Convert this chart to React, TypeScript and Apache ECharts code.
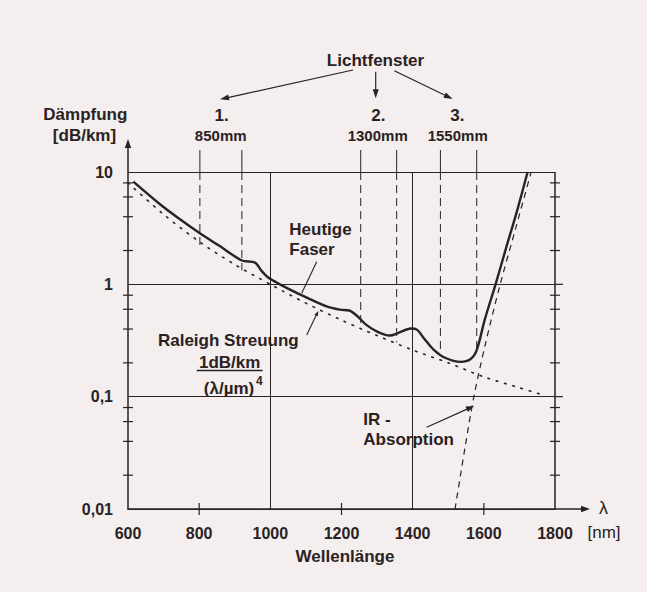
import React, { useEffect, useRef } from "react";
import * as echarts from "echarts";

// ---- data ----
const xMinNm = 600;
const xMaxNm = 1800;
const xStep = 200;
const yMin = 0.01;
const yMax = 10;

// "Heutige Faser" attenuation curve
const fiberWl = [615, 690, 746, 802, 858, 920, 957, 976, 994, 1027, 1074, 1158, 1195, 1222, 1245, 1268, 1300, 1336, 1360, 1395, 1412, 1432, 1458, 1491, 1535, 1562, 1580, 1603, 1633, 1664, 1692, 1723];
const fiberDb = [8.2, 5.16, 3.79, 2.85, 2.19, 1.63, 1.56, 1.31, 1.15, 1.0, 0.84, 0.635, 0.595, 0.585, 0.52, 0.44, 0.38, 0.35, 0.37, 0.405, 0.395, 0.33, 0.264, 0.222, 0.204, 0.215, 0.26, 0.49, 1.0, 2.19, 4.35, 10];

// Rayleigh scattering (dotted)
const rayWl = [600, 700, 800, 900, 1000, 1100, 1200, 1300, 1400, 1500, 1600, 1700, 1760];
const rayDb = [8.0, 4.2, 2.4, 1.5, 1.0, 0.68, 0.48, 0.35, 0.26, 0.2, 0.15, 0.12, 0.105];

// IR absorption (dashed)
const irWl = [1519, 1547, 1572, 1605, 1646, 1690, 1733];
const irDb = [0.01, 0.035, 0.1, 0.3, 1.0, 3.2, 10];

// optical windows (dashed verticals)
const windowWl = [802, 920, 1254, 1355, 1478, 1580];
const windowEnd = [2.2, 1.33, 0.4, 0.305, 0.24, 0.25];

// solid vertical grid lines and x minor ticks
const gridWl = [1000, 1400];
const xTickWl = [800, 1200, 1600];

// y minor ticks
const decades = [0.01, 0.1, 1];
const minorMult = [2, 4, 6, 8];
const hGridDb = [0.1, 1];

const INK = "#2a2222";
const FONT = "'Liberation Sans', Arial, Helvetica, sans-serif";

function fmtY(v: number): string {
  if (v >= 5) return "10";
  if (v >= 0.5) return "1";
  if (v >= 0.05) return "0,1";
  return "0,01";
}

function arrow(x1: number, y1: number, x2: number, y2: number, head = 8, w = 3, lw = 1.2) {
  const dx = x2 - x1, dy = y2 - y1;
  const L = Math.hypot(dx, dy);
  const ux = dx / L, uy = dy / L;
  const bx = x2 - ux * head, by = y2 - uy * head;
  return [
    { type: "line", silent: true, z: 100, shape: { x1, y1, x2: bx + ux * 1, y2: by + uy * 1 }, style: { stroke: INK, lineWidth: lw } },
    {
      type: "polygon", silent: true, z: 100,
      shape: { points: [[x2, y2], [bx - uy * w, by + ux * w], [bx + uy * w, by - ux * w]] },
      style: { fill: INK },
    },
  ];
}

function line(x1: number, y1: number, x2: number, y2: number, lw = 1) {
  return { type: "line", silent: true, z: 100, shape: { x1, y1, x2, y2 }, style: { stroke: INK, lineWidth: lw } };
}

function txt(text: string, x: number, y: number, size = 17, weight: any = "bold", align = "center") {
  return {
    type: "text", silent: true, z: 100, x, y,
    style: {
      text, fill: INK, fontSize: size, fontWeight: weight, fontFamily: FONT,
      align, textAlign: align, verticalAlign: "middle", textVerticalAlign: "middle",
    },
  };
}

export default function App() {
  const ref = useRef<HTMLDivElement>(null);

  useEffect(() => {
    if (!ref.current) return;
    const chart = echarts.init(ref.current, undefined, { renderer: "svg" });

    const windowSeries = windowWl.map((wl, i) => ({
      type: "line",
      data: [[wl, yMax], [wl, windowEnd[i]]],
      symbol: "none",
      silent: true,
      lineStyle: { color: INK, width: 1, type: [8, 5] },
      z: 2,
    }));

    chart.setOption({
      animation: false,
      backgroundColor: "#f4eeee",
      grid: { left: 128, top: 172, right: 92, bottom: 83 },
      xAxis: {
        type: "value",
        min: xMinNm,
        max: xMaxNm,
        interval: xStep,
        axisLine: { show: true, lineStyle: { color: INK, width: 1.5 } },
        axisTick: { show: false },
        splitLine: { show: false },
        axisLabel: {
          color: INK, fontSize: 16, fontWeight: "bold", fontFamily: FONT, margin: 16,
          formatter: (v: number) => String(Math.round(v)),
        },
      },
      yAxis: {
        type: "log",
        logBase: 10,
        min: yMin,
        max: yMax,
        axisLine: { show: true, lineStyle: { color: INK, width: 1.5 } },
        axisTick: { show: false },
        splitLine: { show: true, lineStyle: { color: INK, width: 1.2 } },
        axisLabel: { color: INK, fontSize: 16, fontWeight: "bold", fontFamily: FONT, margin: 15, formatter: (v: number) => fmtY(v) },
      },
      series: [
        {
          type: "line",
          name: "Heutige Faser",
          data: fiberWl.map((w, i) => [w, fiberDb[i]]),
          symbol: "none",
          smooth: 0.3,
          silent: true,
          lineStyle: { color: INK, width: 2.4 },
          z: 5,
          markLine: {
            silent: true,
            symbol: "none",
            label: { show: false },
            lineStyle: { color: INK, width: 1, type: "solid" },
            data: gridWl.map((w) => ({ xAxis: w })),
          },
        },
        {
          type: "line",
          name: "Raleigh",
          data: rayWl.map((w, i) => [w, rayDb[i]]),
          symbol: "none",
          smooth: 0.3,
          silent: true,
          lineStyle: { color: INK, width: 1.6, type: [1.6, 7], cap: "round" },
          z: 4,
        },
        {
          type: "line",
          name: "IR",
          data: irWl.map((w, i) => [w, irDb[i]]),
          symbol: "none",
          smooth: 0.3,
          silent: true,
          lineStyle: { color: INK, width: 1.2, type: [6, 5] },
          z: 4,
        },
        ...windowSeries,
      ],
    });

    const P = (x: number, y: number) => chart.convertToPixel({ seriesIndex: 0 }, [x, y]) as number[];
    const g: any[] = [];

    const [xl, yt] = P(xMinNm, yMax);
    const [xr, yb] = P(xMaxNm, yMin);

    // right frame line
    g.push(line(xr, yt, xr, yb, 1.5));
    // axis arrows
    g.push(...arrow(xl, yt, xl, yt - 33, 9, 3.2, 1.5));
    g.push(...arrow(xr, yb, xr + 35, yb, 9, 3.2, 1.5));

    // y minor ticks on both vertical axes
    decades.forEach((d) => {
      minorMult.forEach((m) => {
        const [, py] = P(xMinNm, d * m);
        g.push(line(xl - 5, py, xl + 5, py, 1.2));
        g.push(line(xr - 5, py, xr + 5, py, 1.2));
      });
    });
    // horizontal grid extension past the right axis
    hGridDb.forEach((d) => {
      const [, py] = P(xMaxNm, d);
      g.push(line(xr, py, xr + 8, py, 1.2));
    });
    // x ticks
    xTickWl.forEach((w) => {
      const [px] = P(w, yMin);
      g.push(line(px, yb - 6, px, yb + 6, 1.2));
    });
    // solid stubs of the window lines above the frame
    windowWl.forEach((w) => {
      const [px] = P(w, yMax);
      g.push(line(px, yt, px, 150, 1));
    });

    // titles and labels
    g.push(txt("Lichtfenster", 375.5, 60, 17));
    g.push(...arrow(353, 70, 220, 99.3, 9, 3));
    g.push(...arrow(375.7, 71.7, 375.7, 98.3, 9, 3));
    g.push(...arrow(394.3, 70.7, 452.7, 99, 9, 3));
    g.push(txt("1.", 221.7, 115, 17));
    g.push(txt("850mm", 220.7, 135, 15));
    g.push(txt("2.", 378.3, 115, 17));
    g.push(txt("1300mm", 377.7, 135, 15));
    g.push(txt("3.", 457.3, 115, 17));
    g.push(txt("1550mm", 457.7, 135, 15));

    g.push(txt("Dämpfung", 85.3, 114, 17));
    g.push(txt("[dB/km]", 84.5, 135.5, 17));

    g.push(txt("Heutige", 289.3, 229.3, 17, "bold", "left"));
    g.push(txt("Faser", 289.3, 249.3, 17, "bold", "left"));
    g.push(line(316.7, 261.7, 301.7, 293.3, 1.1));

    g.push(txt("Raleigh Streuung", 228.3, 340.7, 17));
    g.push(txt("1dB/km", 229.7, 362.5, 17));
    g.push(line(196.7, 370.5, 262.7, 370.5, 1.5));
    g.push(txt("(λ/µm)", 229, 388.3, 17));
    g.push(txt("4", 256, 381, 12, "bold", "left"));
    g.push(...arrow(306.7, 335, 318.3, 311, 5, 2, 1.1));

    g.push(txt("IR -", 363.3, 419.3, 17, "bold", "left"));
    g.push(txt("Absorption", 363.3, 439.3, 17, "bold", "left"));
    g.push(...arrow(426.7, 427.3, 474, 406, 8, 3, 1.1));

    g.push(txt("λ", 603.5, 508, 18, "normal"));
    g.push(txt("[nm]", 604, 532.3, 17, "normal"));
    g.push(txt("Wellenlänge", 345, 556, 17));

    chart.setOption({ graphic: { elements: g } });

    return () => chart.dispose();
  }, []);

  return (
    <div
      ref={ref}
      style={{ position: "fixed", left: 0, top: 0, width: 647, height: 592 }}
    />
  );
}
